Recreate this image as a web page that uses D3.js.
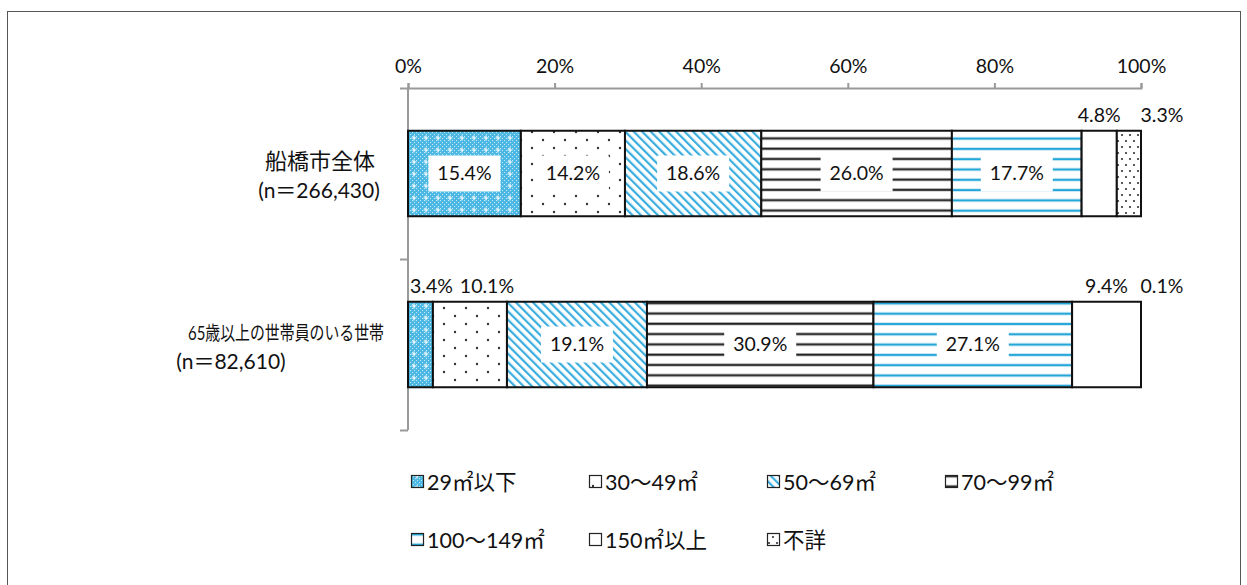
<!DOCTYPE html>
<html>
<head>
<meta charset="utf-8">
<script src="https://cdn.jsdelivr.net/npm/d3@7"></script>
<style>
  body { margin: 0; background: #fff; }
  text { font-family: Lato, "Noto Sans CJK JP", sans-serif; fill: #111; }
</style>
</head>
<body>
<div id="chart"></div>
<script>
// data
var groups = ["船橋市全体", "65歳以上の世帯員のいる世帯"];
var groupN = ["(n＝266,430)", "(n＝82,610)"];
var keys = ["29㎡以下", "30～49㎡", "50～69㎡", "70～99㎡", "100～149㎡", "150㎡以上", "不詳"];
var city = [15.4, 14.2, 18.6, 26.0, 17.7, 4.8, 3.3];
var senior = [3.4, 10.1, 19.1, 30.9, 27.1, 9.4, 0.1];
var ticks = [0, 20, 40, 60, 80, 100];

var width = 1247, height = 585;
var svg = d3.select("#chart").append("svg")
    .attr("width", width)
    .attr("height", height);

// patterns
var defs = svg.append("defs");
var pats = ["p0", "p1", "p2", "p3", "p4", "p5", "p6"];

var p = defs.append("pattern").attr("id", "p0").attr("patternUnits", "userSpaceOnUse")
    .attr("width", 12).attr("height", 12);
p.append("rect").attr("width", 12).attr("height", 12).attr("fill", "#4cb8e3");
for (var i = 0; i < 6; i++) for (var j = 0; j < 6; j++) {
  if ((i + j) % 2 == 0) p.append("rect").attr("x", i * 2).attr("y", j * 2).attr("width", 1).attr("height", 1).attr("fill", "#c6e9f7");
}
p.append("path").attr("d", "M6,3.5V8.5M3.5,6H8.5").attr("stroke", "#fff").attr("stroke-width", 1.2);

p = defs.append("pattern").attr("id", "p1").attr("patternUnits", "userSpaceOnUse")
    .attr("width", 22).attr("height", 32);
p.append("rect").attr("width", 22).attr("height", 32).attr("fill", "#fff");
[[4, 4], [15, 12], [4, 20], [15, 28]].forEach(function(d) {
  p.append("circle").attr("cx", d[0]).attr("cy", d[1]).attr("r", 1.2).attr("fill", "#333");
});

p = defs.append("pattern").attr("id", "p2").attr("patternUnits", "userSpaceOnUse")
    .attr("width", 6).attr("height", 6).attr("patternTransform", "rotate(-45)");
p.append("rect").attr("width", 6).attr("height", 6).attr("fill", "#fff");
p.append("rect").attr("x", -0.3).attr("width", 2.8).attr("height", 6).attr("fill", "#a8dcf1");
p.append("rect").attr("width", 1.8).attr("height", 6).attr("fill", "#2ea9dc");

p = defs.append("pattern").attr("id", "p3").attr("patternUnits", "userSpaceOnUse")
    .attr("width", 10).attr("height", 10.3);
p.append("rect").attr("width", 10).attr("height", 10.3).attr("fill", "#fff");
p.append("rect").attr("y", 3).attr("width", 10).attr("height", 3).attr("fill", "#aaa");
p.append("rect").attr("y", 3.6).attr("width", 10).attr("height", 1.8).attr("fill", "#222");

p = defs.append("pattern").attr("id", "p4").attr("patternUnits", "userSpaceOnUse")
    .attr("width", 10).attr("height", 10.3);
p.append("rect").attr("width", 10).attr("height", 10.3).attr("fill", "#fff");
p.append("rect").attr("y", 3).attr("width", 10).attr("height", 3.4).attr("fill", "#bfe3f3");
p.append("rect").attr("y", 3.8).attr("width", 10).attr("height", 1.8).attr("fill", "#1ea4d8");

p = defs.append("pattern").attr("id", "p5").attr("patternUnits", "userSpaceOnUse")
    .attr("width", 10).attr("height", 10);
p.append("rect").attr("width", 10).attr("height", 10).attr("fill", "#fff");

p = defs.append("pattern").attr("id", "p6").attr("patternUnits", "userSpaceOnUse")
    .attr("width", 8).attr("height", 12);
p.append("rect").attr("width", 8).attr("height", 12).attr("fill", "#fff");
[[2, 3], [6, 9]].forEach(function(d) {
  p.append("circle").attr("cx", d[0]).attr("cy", d[1]).attr("r", 1.1).attr("fill", "#333");
});

// frame
svg.append("rect")
    .attr("x", 7.5).attr("y", 11.5)
    .attr("width", 1233).attr("height", 600)
    .attr("fill", "none").attr("stroke", "#555").attr("stroke-width", 1);

var x = d3.scaleLinear().domain([0, 100]).range([408, 1141]);
var y = d3.scaleBand().domain(groups).range([88, 430]).paddingInner(0.5).paddingOuter(0.25);

// top axis
var ax = svg.append("g")
    .attr("transform", "translate(0,88)")
    .call(d3.axisTop(x).tickValues(ticks).tickSize(5).tickPadding(10).tickFormat(function(d) { return d + "%"; }));
ax.select(".domain").attr("stroke", "#999").attr("stroke-width", 2);
ax.selectAll(".tick line").attr("stroke", "#999").attr("stroke-width", 2);
ax.selectAll(".tick text").attr("font-size", 19.5).attr("fill", "#111").style("font-family", "Lato, sans-serif");

// left axis
var yl = d3.scaleLinear().domain([0, 2]).range([88, 430]);
var ay = svg.append("g")
    .attr("transform", "translate(408,0)")
    .call(d3.axisLeft(yl).tickValues([0, 1, 2]).tickSize(8).tickFormat(""));
ay.select(".domain").attr("stroke", "#999").attr("stroke-width", 2).attr("d", "M0,88V430");
ay.selectAll(".tick line").attr("stroke", "#999").attr("stroke-width", 2);

// stacked bars
var rows = [city, senior];
rows.forEach(function(vals, r) {
  var acc = 0;
  var segs = vals.map(function(v, k) {
    var s = { k: k, v: v, x0: acc, x1: Math.min(100, acc + v) };
    acc += v;
    return s;
  });
  var g = svg.append("g");
  g.selectAll("rect")
    .data(segs)
    .enter().append("rect")
      .attr("x", function(d) { return x(d.x0); })
      .attr("y", y(groups[r]))
      .attr("width", function(d) { return Math.max(0, x(d.x1) - x(d.x0)); })
      .attr("height", y.bandwidth())
      .attr("fill", function(d) { return "url(#" + pats[d.k] + ")"; })
      .attr("stroke", "#111")
      .attr("stroke-width", 2);

  // labels
  var inside = segs.filter(function(d) { return d.v >= 10.5; });
  var outside = segs.filter(function(d) { return d.v < 10.5; });
  var lb = g.selectAll("g.lab").data(inside).enter().append("g")
      .attr("transform", function(d) {
        return "translate(" + x((d.x0 + d.x1) / 2) + "," + (y(groups[r]) + y.bandwidth() / 2) + ")";
      });
  lb.append("rect").attr("x", -36).attr("y", -18).attr("width", 72).attr("height", 36).attr("fill", "#fff");
  lb.append("text").attr("text-anchor", "middle").attr("dy", "0.35em").attr("font-size", 19.5)
      .text(function(d) { return d.v.toFixed(1) + "%"; });

  // small labels sit above the bar, nudged apart
  var prevEnd = 400;
  outside.forEach(function(d) {
    var t = g.append("text").attr("font-size", 19.5).attr("y", y(groups[r]) - 9)
        .text(d.v.toFixed(1) + "%");
    var w = t.node().getComputedTextLength();
    var cx = x((d.x0 + d.x1) / 2);
    if (d.k == keys.length - 1) cx = x(100) + 21;
    var left = Math.max(cx - w / 2, prevEnd + 7, 410);
    t.attr("x", left);
    prevEnd = left + w;
  });
});

// category labels
var cat = svg.append("g");
groups.forEach(function(gname, r) {
  var cy = y(gname) + y.bandwidth() / 2;
  var t1 = cat.append("text").attr("x", r == 0 ? 320 : 286).attr("y", cy - 5)
      .attr("text-anchor", "middle").attr("font-size", r == 0 ? 22 : 19.5).text(gname);
  if (r == 1) t1.attr("textLength", 196).attr("lengthAdjust", "spacingAndGlyphs");
  cat.append("text").attr("x", r == 0 ? 319 : 231).attr("y", cy + 24)
      .attr("text-anchor", "middle").attr("font-size", 21).text(groupN[r]);
});

// legend
var legend = svg.append("g")
  .selectAll("g")
  .data(keys)
  .enter().append("g")
    .attr("transform", function(d, i) {
      return "translate(" + (411 + (i % 4) * 178) + "," + (482 + Math.floor(i / 4) * 58) + ")";
    });

legend.append("rect")
    .attr("x", 0.5).attr("y", -6.5)
    .attr("width", 12).attr("height", 12)
    .attr("fill", function(d, i) { return "url(#" + pats[i] + ")"; })
    .attr("stroke", "#222").attr("stroke-width", 1.2);

legend.append("text")
    .attr("x", 16)
    .attr("dy", "0.37em")
    .attr("font-size", 21.5)
    .text(function(d) { return d; });
</script>
</body>
</html>
